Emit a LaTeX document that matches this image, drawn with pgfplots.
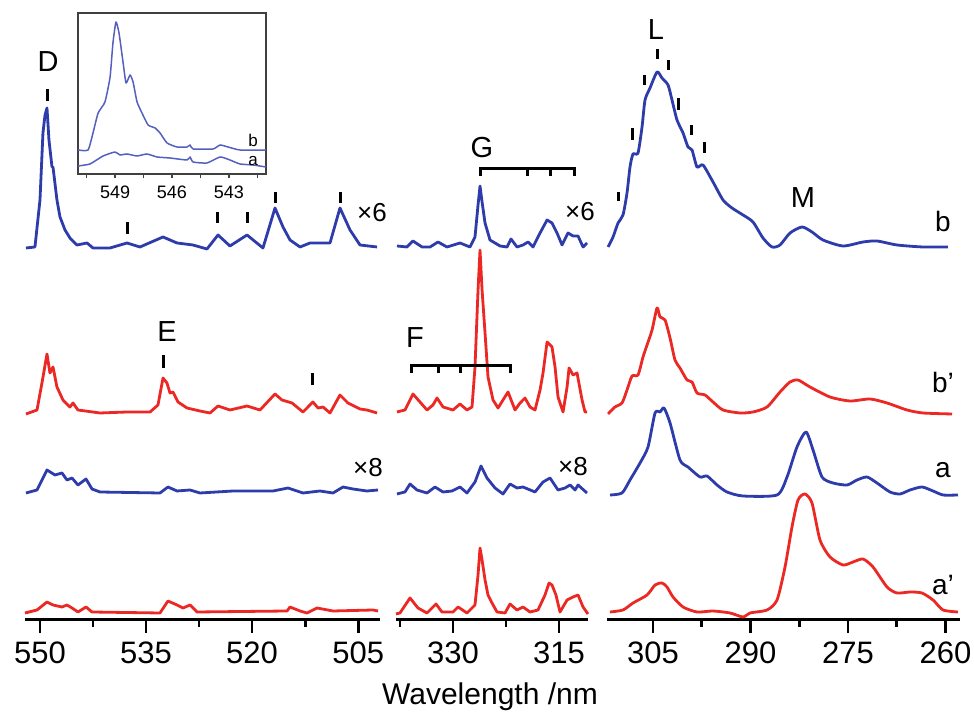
\documentclass[border=0pt]{standalone}
\usepackage{pgfplots}
\pgfplotsset{compat=1.18}
\usepackage{fontspec}
\setmainfont{Liberation Sans}
\definecolor{specblue}{RGB}{45,60,170}
\definecolor{specred}{RGB}{235,40,35}
\definecolor{insetblue}{RGB}{85,95,190}
\pgfplotsset{
  mainpanel/.style={
    scale only axis, height=307.5pt, ymin=0, ymax=615,
    x dir=reverse, axis x line*=bottom, axis y line=none,
    x axis line style={-, line width=1.5pt},
    tick align=outside,
    major tick length=6.5pt, minor tick length=3.5pt,
    every major tick/.append style={black, line width=1.4pt},
    every minor tick/.append style={black, line width=1.4pt},
    xticklabel style={font=\fontsize{15.5}{18}\selectfont, yshift=-1pt},
    /pgf/number format/assume math mode=true,
    anchor=south west, clip=false,
  },
  bl/.style={specblue, line width=1.4pt, line join=round},
  rd/.style={specred, line width=1.4pt, line join=round},
  mk/.style={black, line width=1.5pt, forget plot},
}
\begin{document}
\begin{tikzpicture}
\useasboundingbox (0,0) rectangle (487pt,360.5pt);
% ---------------- Panel 1 ----------------
\begin{axis}[mainpanel, at={(12.5pt,50.5pt)}, width=177.5pt,
  xmin=501.91, xmax=552.12,
  xtick={550,535,520,505}, minor xtick={542.5,527.5,512.5}]
% b
\addplot[bl] coordinates {(551.98,372)(550.71,373)(550.0,420)(549.58,487)(549.29,505)(549.01,512)(548.73,480)(548.30,453)(548.16,453)(547.60,420)(547.17,403)(546.46,390)(545.76,382)(544.77,375)(543.35,377)(542.50,372)(540.10,372)(537.69,377)(535.86,373)(532.60,383)(530.62,377)(528.36,375)(526.38,371)(524.82,385)(523.13,374)(520.72,385)(518.46,372)(516.76,412)(515.63,393)(514.64,380)(513.22,373)(511.81,377)(508.98,377)(507.57,412)(506.15,390)(504.74,375)(502.33,373)};
% b'
\addplot[rd] coordinates {(551.98,206)(550.42,210)(549.72,237)(549.01,266)(548.59,247)(548.16,253)(547.60,233)(546.75,220)(545.76,213)(545.33,217)(544.63,210)(541.51,207)(537.69,208)(534.44,208)(533.31,215)(532.60,242)(532.04,237)(531.61,227)(531.19,228)(530.48,218)(529.21,212)(527.37,209)(525.95,207)(524.82,214)(523.13,210)(520.72,214)(518.88,210)(516.76,226)(515.77,220)(514.36,217)(512.80,208)(511.39,218)(510.68,212)(509.97,213)(508.98,207)(507.57,225)(506.44,217)(504.74,211)(503.75,210)(502.33,207)};
% a
\addplot[bl] coordinates {(551.98,127)(550.42,130)(549.01,150)(547.88,145)(546.89,147)(546.18,140)(545.47,142)(544.63,135)(543.49,141)(542.64,131)(541.51,128)(533.03,127)(531.90,133)(530.62,129)(528.78,130)(527.37,127)(522.70,129)(517.04,129)(514.92,132)(512.80,127)(510.40,129)(508.56,127)(507.14,133)(505.73,131)(503.75,129)(502.19,130)};
% a'
\addplot[rd] coordinates {(552.12,7)(550.42,10)(549.01,18)(548.16,15)(546.89,13)(546.18,15)(545.47,12)(544.63,8)(543.49,13)(542.64,8)(533.03,7)(531.90,19)(530.62,15)(529.77,12)(528.78,15)(527.79,8)(515.06,9)(514.64,13)(513.22,9)(512.24,7)(510.82,12)(508.56,9)(502.90,10)(502.19,9)};
% markers
\addplot[mk] coordinates {(548.87,519)(548.87,531)};
\addplot[mk] coordinates {(537.69,386)(537.69,398)};
\addplot[mk] coordinates {(524.96,397)(524.96,408)};
\addplot[mk] coordinates {(520.58,397)(520.58,408)};
\addplot[mk] coordinates {(516.76,417)(516.76,428)};
\addplot[mk] coordinates {(507.43,417)(507.43,428)};
\addplot[mk] coordinates {(532.60,252)(532.60,265)};
\addplot[mk] coordinates {(511.39,235)(511.39,247)};
\end{axis}
% ---------------- Panel 2 ----------------
\begin{axis}[mainpanel, at={(198pt,50.5pt)}, width=96pt,
  xmin=310.91, xmax=338.06,
  xtick={330,315}, minor xtick={337.5,322.5}]
% b
\addplot[bl] coordinates {(337.92,374)(336.51,373)(335.66,379)(334.38,373)(333.25,373)(332.12,378)(330.85,373)(329.01,377)(327.60,373)(326.89,383)(326.46,415)(326.18,434)(325.89,418)(325.47,397)(324.77,380)(323.35,374)(322.36,373)(321.80,381)(320.95,373)(320.10,375)(319.39,378)(318.68,373)(317.69,387)(316.70,400)(316.00,397)(315.29,387)(314.58,375)(313.73,387)(313.03,384)(312.32,384)(311.61,373)(311.05,377)};
% b'
\addplot[rd] coordinates {(337.92,208)(336.79,210)(335.66,226)(334.67,218)(333.68,210)(332.83,215)(332.26,222)(331.41,213)(330.00,210)(329.01,216)(328.02,210)(327.31,213)(326.89,253)(326.46,330)(326.18,370)(325.89,330)(325.47,287)(325.05,243)(324.34,220)(323.63,212)(322.93,220)(322.22,228)(321.23,210)(320.52,217)(319.82,222)(319.11,213)(318.40,210)(317.69,230)(317.27,247)(316.70,278)(316.00,273)(315.57,253)(315.15,223)(314.44,208)(313.87,233)(313.59,252)(313.03,245)(312.46,247)(311.75,220)(311.33,208)(311.05,208)};
% a
\addplot[bl] coordinates {(337.92,126)(336.79,128)(336.08,136)(335.09,130)(333.68,127)(332.55,133)(331.41,128)(330.14,129)(329.01,133)(328.02,127)(326.89,138)(326.04,154)(325.19,142)(324.06,132)(322.93,126)(321.94,136)(320.95,132)(320.10,133)(318.40,128)(317.27,138)(316.28,142)(315.15,130)(314.16,132)(313.45,135)(312.74,130)(312.32,135)(311.05,127)};
% a'
\addplot[rd] coordinates {(338.06,6)(337.50,7)(336.08,22)(334.95,12)(333.68,7)(332.40,16)(331.56,8)(330.00,8)(329.29,13)(328.02,7)(326.89,15)(326.46,45)(326.18,72)(325.89,60)(325.47,40)(325.05,25)(324.48,17)(323.78,8)(322.64,7)(321.94,16)(320.95,10)(320.10,13)(319.11,8)(317.98,10)(316.99,25)(316.42,37)(316.00,35)(315.44,25)(314.87,8)(313.87,20)(313.03,23)(312.32,25)(311.61,13)(310.91,6)};
% G bracket
\addplot[mk, line width=1.5pt] coordinates {(326.18,444)(326.18,451)(312.89,451)(312.89,444)};
\addplot[mk, line width=1.5pt] coordinates {(319.53,451)(319.53,444)};
\addplot[mk, line width=1.5pt] coordinates {(316.28,451)(316.28,444)};
% F bracket
\addplot[mk, line width=1.5pt] coordinates {(335.80,247)(335.80,254)(321.94,254)(321.94,247)};
\addplot[mk, line width=1.5pt] coordinates {(332.12,254)(332.12,247)};
\addplot[mk, line width=1.5pt] coordinates {(329.01,254)(329.01,247)};
\end{axis}
% ---------------- Panel 3 ----------------
\begin{axis}[mainpanel, at={(303.5pt,50.5pt)}, width=176.5pt,
  xmin=257.77, xmax=312.08,
  xtick={305,290,275,260}, minor xtick={297.5,282.5,267.5}]
% b
\addplot[bl, smooth, tension=0.4] coordinates {(311.92,373)(311.15,383)(310.38,397)(309.62,405)(309.00,427)(308.54,453)(308.08,466)(307.31,467)(306.69,493)(306.23,520)(305.46,532)(304.38,548)(303.62,542)(302.69,535)(302.08,520)(301.31,500)(300.38,487)(299.62,473)(299.00,470)(298.23,453)(297.31,455)(295.77,438)(294.23,420)(292.85,412)(291.15,405)(289.62,398)(288.08,382)(286.69,373)(285.46,375)(283.92,387)(282.08,393)(280.54,388)(278.85,380)(275.77,374)(272.69,378)(270.54,379)(267.46,375)(263.46,373)(259.62,373)};
% b'
\addplot[rd, smooth, tension=0.4] coordinates {(311.92,206)(310.85,213)(309.77,217)(309.00,230)(308.23,244)(307.31,245)(306.54,263)(305.92,275)(305.15,290)(304.38,312)(303.92,303)(303.15,300)(302.38,282)(301.62,260)(300.85,252)(299.77,240)(299.00,238)(298.23,227)(297.00,225)(295.77,218)(294.23,210)(291.62,207)(289.62,208)(287.46,213)(285.46,228)(283.92,238)(282.69,240)(280.85,233)(277.77,223)(274.69,219)(271.62,221)(269.00,217)(265.92,210)(263.46,207)(259.00,206)};
% a
\addplot[bl, smooth, tension=0.4] coordinates {(311.62,125)(309.77,127)(308.54,140)(307.00,157)(305.77,173)(304.69,207)(303.92,208)(303.31,212)(302.38,197)(300.85,160)(299.62,153)(297.77,143)(296.69,144)(295.15,135)(293.62,128)(291.15,124)(285.92,125)(284.38,143)(282.85,173)(281.46,188)(280.38,170)(279.00,143)(277.31,137)(275.15,135)(273.62,140)(272.08,143)(270.54,137)(268.54,128)(267.00,126)(265.46,130)(263.62,133)(261.92,129)(260.38,125)(258.08,125)};
% a'
\addplot[rd, smooth, tension=0.4] coordinates {(311.62,8)(309.62,10)(308.08,17)(305.92,25)(304.69,35)(303.62,37)(302.85,33)(301.92,23)(300.38,13)(298.23,8)(295.77,9)(293.15,7)(291.15,3)(290.08,7)(287.46,10)(285.92,20)(284.69,53)(283.62,93)(282.69,120)(281.62,126)(280.54,117)(279.31,80)(277.77,63)(275.77,55)(274.23,58)(272.69,61)(271.15,53)(269.00,33)(267.46,27)(265.46,28)(263.62,27)(261.92,20)(260.38,10)(258.08,8)};
% L markers
\addplot[mk] coordinates {(310.38,419)(310.38,428)};
\addplot[mk] coordinates {(308.23,480)(308.23,492)};
\addplot[mk] coordinates {(306.38,535)(306.38,545)};
\addplot[mk] coordinates {(304.38,561)(304.38,571)};
\addplot[mk] coordinates {(302.69,550)(302.69,560)};
\addplot[mk] coordinates {(301.15,510)(301.15,522)};
\addplot[mk] coordinates {(299.15,485)(299.15,495)};
\addplot[mk] coordinates {(297.15,467)(297.15,478)};
\end{axis}
% ---------------- Inset ----------------
\begin{axis}[scale only axis, anchor=south west, at={(39pt,273.5pt)},
  width=94pt, height=80.5pt,
  x dir=reverse, xmin=541.05, xmax=550.95, ymin=0, ymax=161,
  axis line style={draw=black!75, line width=0.7pt},
  ytick=\empty, xtick pos=bottom, tick align=outside,
  xtick={549,546,543}, minor xtick={550.5,547.5,544.5,541.5},
  major tick length=2.2pt, minor tick length=2.2pt,
  every major tick/.append style={black!75, line width=0.6pt},
  every minor tick/.append style={black!75, line width=0.6pt},
  xticklabel style={font=\fontsize{9}{10}\selectfont},
  /pgf/number format/assume math mode=true]
\addplot[insetblue, line width=0.75pt, line join=round, smooth, tension=0.3] coordinates {(550.95,24)(550.42,24)(550.16,41)(549.89,61)(549.53,72)(549.26,97)(549.11,131)(548.95,152)(548.79,141)(548.58,112)(548.42,91)(548.21,99)(548.05,92)(547.84,72)(547.58,61)(547.26,49)(546.89,46)(546.63,41)(546.26,31)(545.74,27)(545.21,27)(545.05,29)(544.89,25)(543.84,25)(543.47,29)(543.05,27)(542.42,24)(541.05,24)};
\addplot[insetblue, line width=0.75pt, line join=round, smooth, tension=0.3] coordinates {(550.95,8)(550.32,10)(549.63,18)(549.00,22)(548.74,19)(548.37,20)(547.84,18)(547.32,20)(546.79,17)(546.11,16)(545.21,14)(545.05,17)(544.89,12)(544.16,11)(543.47,17)(542.95,14)(542.42,10)(541.74,9)(541.05,7)};
\end{axis}
% ---------------- Labels ----------------
\begin{scope}[x=0.5pt,y=0.5pt]
\node[font=\fontsize{14.5}{16}\selectfont] at (48,721-62) {D};
\node[font=\fontsize{14.5}{16}\selectfont] at (167,721-332) {E};
\node[font=\fontsize{14.5}{16}\selectfont] at (482,721-148) {G};
\node[font=\fontsize{14.5}{16}\selectfont] at (415,721-338) {F};
\node[font=\fontsize{14.5}{16}\selectfont] at (656,721-30) {L};
\node[font=\fontsize{14.5}{16}\selectfont] at (803,721-198) {M};
\node[font=\fontsize{13}{15}\selectfont] at (372,721-213) {×6};
\node[font=\fontsize{13}{15}\selectfont] at (580,721-212) {×6};
\node[font=\fontsize{13}{15}\selectfont] at (368,721-468) {×8};
\node[font=\fontsize{13}{15}\selectfont] at (573,721-467) {×8};
\node[font=\fontsize{14}{16}\selectfont] at (943,721-222) {b};
\node[font=\fontsize{14}{16}\selectfont] at (943,721-383) {b'};
\node[font=\fontsize{14}{16}\selectfont] at (943,721-470) {a};
\node[font=\fontsize{14}{16}\selectfont] at (943,721-585) {a'};
\node[font=\fontsize{8.5}{10}\selectfont] at (253,721-140) {b};
\node[font=\fontsize{8.5}{10}\selectfont] at (253,721-161) {a};
\node[font=\fontsize{15}{18}\selectfont] at (490,721-697) {Wavelength /nm};
\end{scope}
\end{tikzpicture}
\end{document}
